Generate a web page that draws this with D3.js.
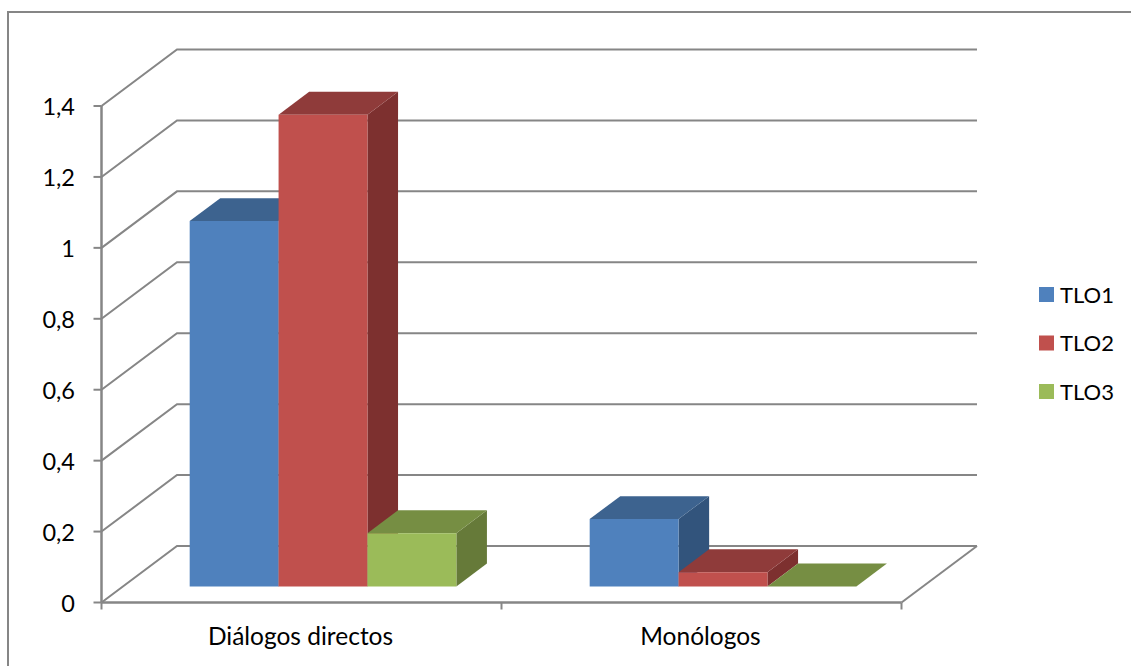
<!DOCTYPE html>
<html>
<head>
<meta charset="utf-8">
<script src="https://cdn.jsdelivr.net/npm/d3@7"></script>
<style>
  html, body { margin: 0; padding: 0; background: #fff; }
  svg { display: block; }
  text { font-family: Lato, 'Open Sans', sans-serif; fill: #000; }
</style>
</head>
<body>
<div id="graph"></div>
<script>
const categories = ['Diálogos directos', 'Monólogos']
const seriesNames = ['TLO1', 'TLO2', 'TLO3']
const tlo1Values = [1.03, 0.19]
const tlo2Values = [1.33, 0.04]
const tlo3Values = [0.15, 0]
const yTicks = [0, 0.2, 0.4, 0.6, 0.8, 1, 1.2, 1.4]
const yTickLabels = ['0', '0,2', '0,4', '0,6', '0,8', '1', '1,2', '1,4']

const frontColors = ['#4f81bd', '#c0504d', '#9bbb59']
const topColors = ['#3d638f', '#8f3b3a', '#768e43']
const sideColors = ['#32547c', '#7d302f', '#667a39']
const axisColor = '#868686'

const width = 1131,
  height = 666

const svg = d3
  .select('#graph')
  .append('svg')
  .attr('width', width)
  .attr('height', height)

// outer frame, only top and left sides are visible
svg
  .append('path')
  .attr('d', `M${width},12H8V${height}`)
  .attr('fill', 'none')
  .attr('stroke', axisColor)
  .attr('stroke-width', 2)

const x0 = d3.scaleBand().domain(categories).range([101.5, 901.5])
const x1 = d3
  .scaleBand()
  .domain(seriesNames)
  .range([0, x0.bandwidth()])
  .paddingOuter(0.75)
  .paddingInner(0)
const y = d3.scaleLinear().domain([0, 1.4]).range([602.5, 106])

// oblique projection: depth 0 is the front of the floor, 1 is the back wall
const depthX = d3.scaleLinear().domain([0, 1]).range([0, 75.5])
const depthY = d3.scaleLinear().domain([0, 1]).range([0, -56.5])
const project = (px, value, depth) => [px + depthX(depth), y(value) + depthY(depth)]
const polygon = (pts) => pts.map((p) => p.join(',')).join(' ')

const xLeft = x0.range()[0],
  xRight = x0.range()[1]

// gridlines on the side and back walls
const gridLine = d3.line()
svg
  .selectAll('.grid')
  .data(yTicks)
  .enter()
  .append('path')
  .attr('class', 'grid')
  .attr('d', (d) =>
    gridLine([project(xLeft, d, 0), project(xLeft, d, 1), project(xRight, d, 1)])
  )
  .attr('fill', 'none')
  .attr('stroke', axisColor)
  .attr('stroke-width', 2)

// right edge of the floor
svg
  .append('path')
  .attr('d', gridLine([project(xRight, 0, 1), project(xRight, 0, 0)]))
  .attr('fill', 'none')
  .attr('stroke', axisColor)
  .attr('stroke-width', 2)

// value axis with its ticks
svg
  .append('line')
  .attr('x1', xLeft)
  .attr('x2', xLeft)
  .attr('y1', y(1.4))
  .attr('y2', y(0))
  .attr('stroke', axisColor)
  .attr('stroke-width', 2.5)
svg
  .selectAll('.ytick')
  .data(yTicks)
  .enter()
  .append('line')
  .attr('class', 'ytick')
  .attr('x1', xLeft - 8)
  .attr('x2', xLeft)
  .attr('y1', (d) => y(d))
  .attr('y2', (d) => y(d))
  .attr('stroke', axisColor)
  .attr('stroke-width', 2)
svg
  .selectAll('.ylabel')
  .data(yTicks)
  .enter()
  .append('text')
  .attr('class', 'ylabel')
  .attr('x', 75)
  .attr('y', (d) => y(d) + 9)
  .attr('text-anchor', 'end')
  .attr('font-size', 23.5)
  .text((d, i) => yTickLabels[i])

// category axis
svg
  .append('line')
  .attr('x1', xLeft)
  .attr('x2', xRight)
  .attr('y1', y(0))
  .attr('y2', y(0))
  .attr('stroke', axisColor)
  .attr('stroke-width', 2.5)
svg
  .selectAll('.xtick')
  .data([xLeft, x0(categories[1]), xRight])
  .enter()
  .append('line')
  .attr('class', 'xtick')
  .attr('x1', (d) => d)
  .attr('x2', (d) => d)
  .attr('y1', y(0))
  .attr('y2', y(0) + 7)
  .attr('stroke', axisColor)
  .attr('stroke-width', 2)
svg
  .selectAll('.xlabel')
  .data(categories)
  .enter()
  .append('text')
  .attr('class', 'xlabel')
  .attr('x', (d) => x0(d) + x0.bandwidth() / 2 - 1)
  .attr('y', 645)
  .attr('text-anchor', 'middle')
  .attr('font-size', 24.5)
  .text((d) => d)

// bars, drawn back to front within each category
const barData = []
categories.forEach((cat, c) => {
  ;[tlo1Values, tlo2Values, tlo3Values].forEach((values, s) => {
    barData.push({ cat, s, name: seriesNames[s], value: values[c] })
  })
})

const depthFront = 0.285,
  depthBack = 0.69

const bars = svg
  .selectAll('.bar')
  .data(barData)
  .enter()
  .append('g')
  .attr('class', 'bar')

bars
  .append('polygon')
  .attr('points', (d) => {
    const a = x0(d.cat) + x1(d.name),
      b = a + x1.bandwidth()
    return polygon([
      project(b, 0, depthFront),
      project(b, 0, depthBack),
      project(b, d.value, depthBack),
      project(b, d.value, depthFront),
    ])
  })
  .attr('fill', (d) => sideColors[d.s])
bars
  .append('polygon')
  .attr('points', (d) => {
    const a = x0(d.cat) + x1(d.name),
      b = a + x1.bandwidth()
    return polygon([
      project(a, d.value, depthFront),
      project(a, d.value, depthBack),
      project(b, d.value, depthBack),
      project(b, d.value, depthFront),
    ])
  })
  .attr('fill', (d) => topColors[d.s])
bars
  .append('polygon')
  .attr('points', (d) => {
    const a = x0(d.cat) + x1(d.name),
      b = a + x1.bandwidth()
    return polygon([
      project(a, 0, depthFront),
      project(a, d.value, depthFront),
      project(b, d.value, depthFront),
      project(b, 0, depthFront),
    ])
  })
  .attr('fill', (d) => frontColors[d.s])

// legend
const legendY = d3.scalePoint().domain(seriesNames).range([294.5, 391.5])
const legend = svg
  .selectAll('.legend')
  .data(seriesNames)
  .enter()
  .append('g')
  .attr('class', 'legend')
  .attr('transform', (d) => `translate(1039,${legendY(d)})`)
legend
  .append('rect')
  .attr('x', 0)
  .attr('y', -7.5)
  .attr('width', 15)
  .attr('height', 15)
  .attr('fill', (d, i) => frontColors[i])
legend
  .append('text')
  .attr('x', 21)
  .attr('y', 8)
  .attr('font-size', 22)
  .text((d) => d)
</script>
</body>
</html>
